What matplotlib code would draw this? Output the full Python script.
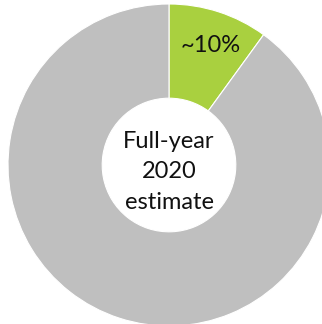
import matplotlib
matplotlib.use("Agg")
import matplotlib.pyplot as plt

labels = ["~10%", ""]
values = [10, 90]
colors = ["#a9d03f", "#bfbfbf"]
center_text = "Full-year\n2020\nestimate"

W, H = 322, 324
fig = plt.figure(figsize=(W / 100, H / 100), dpi=100)
ax = fig.add_axes([0, 0, 1, 1])
R = 161.0
cx, cy = 169.0, 165.0
ax.pie(values, colors=colors, startangle=90, counterclock=False,
       radius=1.0, wedgeprops=dict(width=0.585, edgecolor="white", linewidth=0.8))
ax.set_xlim(-cx / R, (W - cx) / R)
ax.set_ylim(-(H - cy) / R, cy / R)
ax.set_aspect("auto")
ax.axis("off")

ax.text(42 / R, (cy - 46) / R, labels[0], ha="center", va="center",
        fontsize=17, family="Lato", color="#111111")
ax.text(0, (cy - 172) / R, center_text, ha="center", va="center",
        fontsize=17, family="Lato", color="#111111", linespacing=1.55)

fig.savefig("out.png", dpi=100)
